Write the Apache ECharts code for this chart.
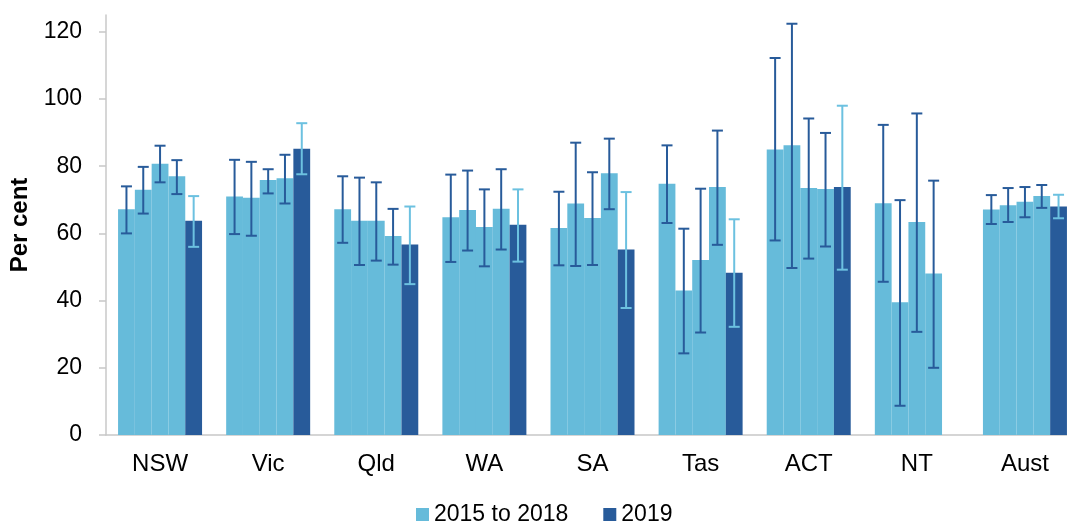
<!DOCTYPE html>
<html>
<head>
<meta charset="utf-8">
<script src="https://cdn.jsdelivr.net/npm/echarts@6/dist/echarts.min.js"></script>
<style>
  html, body { margin: 0; padding: 0; background: #ffffff; }
  #chart { width: 1067px; height: 524px; }
</style>
</head>
<body>
<div id="chart"></div>
<script>
const categories = ['NSW', 'Vic', 'Qld', 'WA', 'SA', 'Tas', 'ACT', 'NT', 'Aust'];
const yTicks = [0, 20, 40, 60, 80, 100, 120];
const legendNames = ['2015 to 2018', '2019'];

const val2015 = [67.2, 71.0, 67.2, 64.8, 61.6, 74.8, 85.0, 69.0, 67.1];
const lo2015  = [60.0, 59.8, 57.2, 51.5, 50.5, 63.1, 57.9, 45.6, 62.8];
const hi2015  = [74.0, 81.9, 77.0, 77.5, 72.4, 86.2, 112.2, 92.3, 71.4];

const val2016 = [73.0, 70.6, 63.8, 67.0, 68.9, 43.0, 86.2, 39.5, 68.4];
const lo2016  = [65.9, 59.3, 50.6, 54.9, 50.3, 24.3, 49.7, 8.7, 63.4];
const hi2016  = [79.8, 81.3, 76.6, 78.7, 87.0, 61.4, 122.4, 69.9, 73.5];

const val2017 = [80.7, 75.9, 63.8, 61.9, 64.6, 52.1, 73.5, 63.4, 69.4];
const lo2017  = [75.2, 71.9, 51.9, 50.2, 50.6, 30.5, 52.5, 30.7, 64.8];
const hi2017  = [86.1, 79.1, 75.2, 73.1, 78.2, 73.3, 94.2, 95.7, 73.8];

const val2018 = [77.0, 76.4, 59.2, 67.3, 77.9, 73.8, 73.2, 48.1, 71.1];
const lo2018  = [71.7, 68.9, 50.7, 55.2, 67.2, 56.6, 56.1, 20.0, 67.6];
const hi2018  = [81.8, 83.4, 67.3, 79.1, 88.2, 90.6, 89.9, 75.7, 74.4];

const val2019 = [63.8, 85.2, 56.7, 62.6, 55.2, 48.3, 73.8, null, 68.0];
const lo2019  = [56.0, 77.6, 44.9, 51.6, 37.8, 32.2, 49.2, null, 64.5];
const hi2019  = [71.1, 92.8, 68.0, 73.1, 72.3, 64.2, 98.0, null, 71.5];

const LIGHT = '#66bbda';
const DARK = '#285b9a';
const BAR_W = 16.8;
const CAP_W = 11;

const groups = [
  { vals: val2015, lo: lo2015, hi: hi2015, name: legendNames[0], color: LIGHT, errColor: DARK },
  { vals: val2016, lo: lo2016, hi: hi2016, name: legendNames[0], color: LIGHT, errColor: DARK },
  { vals: val2017, lo: lo2017, hi: hi2017, name: legendNames[0], color: LIGHT, errColor: DARK },
  { vals: val2018, lo: lo2018, hi: hi2018, name: legendNames[0], color: LIGHT, errColor: DARK },
  { vals: val2019, lo: lo2019, hi: hi2019, name: legendNames[1], color: DARK, errColor: '#6cc1e0' }
];

const series = [];
groups.forEach(function (g) {
  series.push({
    type: 'bar',
    name: g.name,
    data: g.vals,
    barWidth: BAR_W,
    barGap: '0%',
    itemStyle: { color: g.color },
    emphasis: { disabled: true }
  });
});
groups.forEach(function (g, k) {
  const data = [];
  g.lo.forEach(function (lo, i) {
    if (lo !== null && g.hi[i] !== null) data.push([i, lo, g.hi[i]]);
  });
  const offset = (k - (groups.length - 1) / 2) * BAR_W;
  series.push({
    type: 'custom',
    name: 'err' + k,
    z: 5,
    silent: true,
    clip: false,
    encode: { x: 0, y: [1, 2] },
    data: data,
    renderItem: function (params, api) {
      const idx = api.value(0);
      const pLo = api.coord([idx, api.value(1)]);
      const pHi = api.coord([idx, api.value(2)]);
      const x = pLo[0] + offset;
      const style = { stroke: g.errColor, lineWidth: 2 };
      return {
        type: 'group',
        children: [
          { type: 'line', shape: { x1: x, y1: pLo[1], x2: x, y2: pHi[1] }, style: style },
          { type: 'line', shape: { x1: x - CAP_W / 2, y1: pHi[1], x2: x + CAP_W / 2, y2: pHi[1] }, style: style },
          { type: 'line', shape: { x1: x - CAP_W / 2, y1: pLo[1], x2: x + CAP_W / 2, y2: pLo[1] }, style: style }
        ]
      };
    }
  });
});

const chart = echarts.init(document.getElementById('chart'), null, { renderer: 'canvas' });
chart.setOption({
  animation: false,
  backgroundColor: '#ffffff',
  textStyle: { fontFamily: '"Liberation Sans", Arial, sans-serif' },
  grid: { left: 106, top: 15, height: 420, width: 973, containLabel: false, outerBoundsMode: 'none' },
  legend: {
    data: legendNames,
    left: 416,
    top: 503,
    padding: 0,
    itemWidth: 13,
    itemHeight: 13,
    itemGap: 35,
    icon: 'rect',
    textStyle: { fontSize: 23, color: '#000000', fontFamily: '"Liberation Sans", Arial, sans-serif' }
  },
  xAxis: {
    type: 'category',
    data: categories,
    axisLine: { show: true, lineStyle: { color: '#c8c8c8', width: 1.5 } },
    axisTick: { show: false },
    axisLabel: { fontSize: 24, color: '#000000', margin: 17 },
    splitLine: { show: false }
  },
  yAxis: {
    type: 'value',
    min: 0,
    max: 125,
    interval: 20,
    name: 'Per cent',
    nameLocation: 'middle',
    nameGap: 69,
    nameTextStyle: { fontSize: 24, fontWeight: 'bold', color: '#000000' },
    axisLine: { show: true, lineStyle: { color: '#c8c8c8', width: 1.5 } },
    axisTick: { show: true, length: 7, lineStyle: { color: '#c8c8c8', width: 1.5 }, customValues: yTicks },
    axisLabel: { fontSize: 23, color: '#000000', margin: 24, customValues: yTicks },
    splitLine: { show: false }
  },
  series: series
});
</script>
</body>
</html>
